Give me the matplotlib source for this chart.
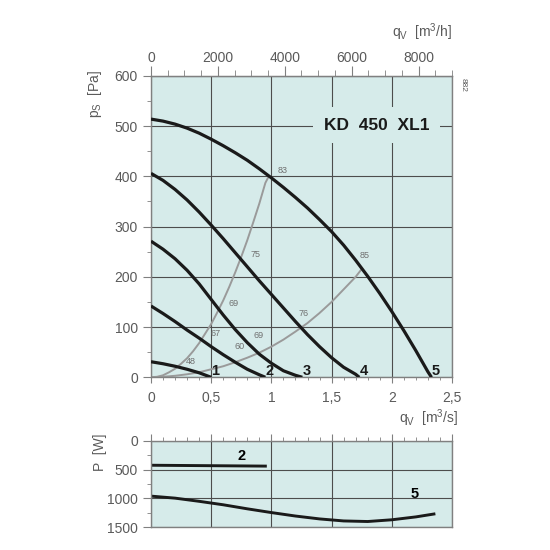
import matplotlib
matplotlib.use('Agg')
import matplotlib.pyplot as plt
from matplotlib.ticker import MultipleLocator, FuncFormatter

plt.rcParams['font.family'] = ['Liberation Sans', 'DejaVu Sans']

Q1 = [0, 0.1, 0.2, 0.3, 0.4, 0.5]
P1 = [31, 27, 22, 16, 9, 0]
Q2 = [0, 0.1, 0.2, 0.3, 0.4, 0.5, 0.6, 0.7, 0.8, 0.9, 0.95]
P2 = [142, 127, 111, 94, 78, 61, 45, 30, 16, 5, 0]
Q3 = [0, 0.1, 0.2, 0.3, 0.4, 0.5, 0.6, 0.7, 0.8, 0.9, 1.0, 1.1, 1.2, 1.257]
P3 = [271, 255, 236, 213, 186, 155, 124, 95, 69, 46, 28, 13, 4, 0]
Q4 = [0, 0.1, 0.2, 0.3, 0.4, 0.5, 0.6, 0.7, 0.8, 0.9, 1.0, 1.1, 1.2, 1.3, 1.4, 1.5, 1.6, 1.7, 1.73]
P4 = [406, 392, 374, 353, 329, 303, 276, 248, 220, 192, 165, 138, 111, 85, 61, 39, 20, 6, 0]
Q5 = [0, 0.1, 0.2, 0.3, 0.4, 0.5, 0.6, 0.7, 0.8, 0.9, 1.0, 1.1, 1.2, 1.3, 1.4, 1.5,
      1.6, 1.7, 1.8, 1.9, 2.0, 2.1, 2.2, 2.3, 2.33]
P5 = [514, 510, 504, 496, 486, 474, 461, 447, 432, 415, 397, 378, 358, 337, 314, 290,
      263, 233, 201, 167, 131, 93, 53, 11, 0]
CURVE_NAMES = ['1', '2', '3', '4', '5']

# Grijze systeemkrommen
QL = [0, 0.05, 0.1, 0.15, 0.2, 0.25, 0.3, 0.35, 0.4, 0.45, 0.5, 0.55, 0.6, 0.65,
      0.7, 0.75, 0.8, 0.85, 0.9, 0.95, 0.978]
PL = [0, 1, 4, 10, 17, 27, 38, 52, 68, 87, 106, 129, 153, 180,
      209, 240, 273, 309, 346, 387, 400]
QR = [0, 0.1, 0.2, 0.3, 0.4, 0.5, 0.6, 0.7, 0.8, 0.9, 1.0, 1.1, 1.2, 1.3, 1.4,
      1.5, 1.6, 1.7, 1.742]
PR = [0, 1, 3, 6, 10, 16, 22, 30, 39, 49, 61, 75, 91, 108, 128,
      150, 175, 200, 213]

# Rendementspunten op de grijze krommen
LEFT_PTS_Q = [0.215, 0.417, 0.569, 0.749, 0.978]
LEFT_PTS_P = [20, 76, 135, 233, 400]
LEFT_VALUES = ['48', '67', '69', '75', '83']
RIGHT_PTS_Q = [0.70, 0.86, 1.236, 1.742]
RIGHT_PTS_P = [30, 53, 97, 213]
RIGHT_VALUES = ['60', '69', '76', '85']

# Vermogen (onderste grafiek)
QW2 = [0, 0.95]
PW2 = [425, 440]
QW5 = [0, 0.2, 0.4, 0.6, 0.8, 1.0, 1.2, 1.4, 1.6, 1.8, 2.0, 2.2, 2.35]
PW5 = [960, 995, 1050, 1110, 1180, 1245, 1305, 1355, 1390, 1400, 1370, 1320, 1270]

BG = '#d6ebea'
GRID = '#4d4d4d'
TXT = '#5a5a5a'
GREY_CURVE = '#9a9a9a'


def comma(v, _):
    return f'{v:g}'.replace('.', ',')


def plot_chart():
    fig = plt.figure(figsize=(5.5, 5.5), dpi=100)
    ax = fig.add_axes([0.2745, 0.314, 0.5473, 0.548])
    ax2 = fig.add_axes([0.2745, 0.0413, 0.5473, 0.1574])

    for a in (ax, ax2):
        a.set_facecolor(BG)
        for s in a.spines.values():
            s.set_color('#808080')
            s.set_linewidth(1.0)
        a.set_xlim(0, 2.5)
        a.grid(True, color=GRID, linewidth=0.8)
        a.set_axisbelow(True)
        a.xaxis.set_major_locator(MultipleLocator(0.5))
        a.xaxis.set_minor_locator(MultipleLocator(0.1))
        a.tick_params(which='both', direction='out', colors='#808080', labelcolor=TXT, labelsize=10)
        a.tick_params(which='major', length=6)
        a.tick_params(which='minor', length=3)

    # --- bovenste grafiek ---
    ax.set_ylim(0, 600)
    ax.yaxis.set_major_locator(MultipleLocator(100))
    ax.yaxis.set_minor_locator(MultipleLocator(50))
    ax.xaxis.set_major_formatter(FuncFormatter(comma))
    ax.tick_params(axis='x', which='major', length=4, pad=6)
    ax.tick_params(axis='x', which='minor', length=2.5)

    ax.plot(QL, PL, color=GREY_CURVE, linewidth=1.4, zorder=2)
    ax.plot(QR, PR, color=GREY_CURVE, linewidth=1.4, zorder=2)

    curves = [(Q1, P1), (Q2, P2), (Q3, P3), (Q4, P4), (Q5, P5)]
    for (q, p), name in zip(curves, CURVE_NAMES):
        ax.plot(q, p, color='#1a1a1a', linewidth=2.3, solid_capstyle='butt',
                solid_joinstyle='round', zorder=3)
        ax.text(q[-1] + 0.035, 12, name, fontsize=10.5, fontweight='bold',
                color='#1a1a1a', ha='center', va='center', zorder=4)

    for q, p, v in zip(LEFT_PTS_Q, LEFT_PTS_P, LEFT_VALUES):
        ax.annotate(v, (q, p), xytext=(10, 4), textcoords='offset points',
                    fontsize=6.5, color='#707070', ha='center', va='center')
    for q, p, v in zip(RIGHT_PTS_Q, RIGHT_PTS_P, RIGHT_VALUES):
        ax.annotate(v, (q, p), xytext=(3, 11), textcoords='offset points',
                    fontsize=6.5, color='#707070', ha='center', va='center')

    ax.text(1.873, 502, 'KD  450  XL1', fontsize=12.5, fontweight='bold', color='#1a1a1a',
            ha='center', va='center', zorder=5,
            bbox=dict(boxstyle='square,pad=0.6', facecolor=BG, edgecolor='none'))

    # bovenste as in m3/h
    top = ax.secondary_xaxis('top', functions=(lambda q: q * 3600, lambda h: h / 3600))
    top.set_xticks([0, 2000, 4000, 6000, 8000])
    top.xaxis.set_minor_locator(MultipleLocator(500))
    top.tick_params(which='both', direction='out', colors='#808080', labelcolor=TXT, labelsize=10)
    top.tick_params(which='major', length=7, pad=1)
    top.tick_params(which='minor', length=4)
    top.spines['top'].set_color('#808080')

    # --- onderste grafiek (vermogen) ---
    ax2.set_ylim(1500, 0)
    ax2.yaxis.set_major_locator(MultipleLocator(500))
    ax2.yaxis.set_minor_locator(MultipleLocator(250))
    ax2.tick_params(axis='x', which='both', bottom=False, labelbottom=False, top=True)
    ax2.tick_params(axis='x', which='major', length=5)
    ax2.tick_params(axis='x', which='minor', length=3)
    ax2.plot(QW2, PW2, color='#1a1a1a', linewidth=2.1)
    ax2.plot(QW5, PW5, color='#1a1a1a', linewidth=2.1)
    ax2.text(0.75, 265, '2', fontsize=10.5, fontweight='bold', ha='center', va='center')
    ax2.text(2.19, 920, '5', fontsize=10.5, fontweight='bold', ha='center', va='center')

    # Aslabels
    fig.text(0.822, 0.942, r'$\mathregular{q_V}$  [m$\mathregular{^3}$/h]', fontsize=10,
             color=TXT, ha='right', va='center')
    fig.text(0.833, 0.24, r'$\mathregular{q_V}$  [m$\mathregular{^3}$/s]', fontsize=10,
             color=TXT, ha='right', va='center')
    fig.text(0.173, 0.829, r'$\mathregular{p_S}$  [Pa]', fontsize=10, color=TXT,
             rotation=90, ha='center', va='center')
    fig.text(0.182, 0.178, 'P  [W]', fontsize=10, color=TXT, rotation=90,
             ha='center', va='center')
    fig.text(0.842, 0.845, '882', fontsize=6, color=TXT, rotation=-90,
             ha='center', va='center')

    fig.savefig('out.png', dpi=100, facecolor='white')


if __name__ == "__main__":
    plot_chart()
